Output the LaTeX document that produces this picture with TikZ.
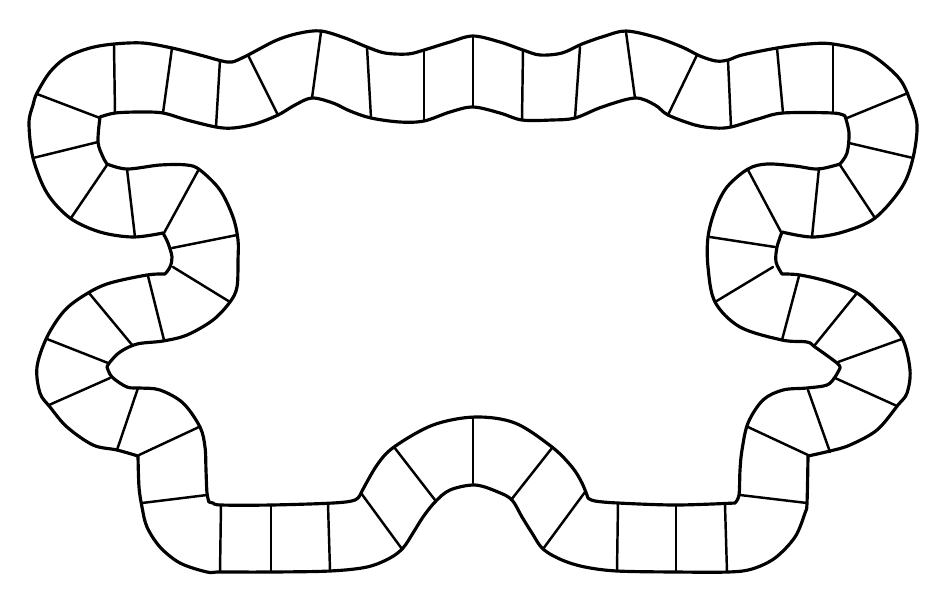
\documentclass[tikz,border=0pt]{standalone}
\usepackage{xcolor}
\definecolor{colTrack}{HTML}{000000}

\begin{document}
\begin{tikzpicture}[
    x=0.02cm, y=-0.02cm,
    trackline/.style={
        draw=colTrack, line width=1.8pt,
        line join=round, line cap=round
    },
    cellline/.style={
        draw=colTrack, line width=1.4pt,
        line cap=round
    },
    trackcurve/.style={smooth, tension=0.55}
]

    % --- FRAME ---
    \useasboundingbox (0,0) rectangle (950,600);

    % --- OUTER EDGE OF THE TRACK ---
    \draw[trackline]
        plot[trackcurve] coordinates {(163,233) (133,237) (100,232) (70,218) (47,193)
            (33,158) (29,123) (33,105) (37,93) (50,72) (67,57) (90,48) (114,44)
            (143,43) (172,48) (200,55) (222,61) (232,62) (242,58) (250,54)
            (277,40) (300,33) (321,31) (345,38) (367,47) (385,53) (408,54)
            (424,50) (450,42) (473,36) (500,42) (523,50) (540,55) (562,53)
            (582,44) (605,36) (626,31) (655,37) (682,47) (700,56) (716,61)
            (728,60) (742,55) (777,48) (808,44) (833,44) (868,53) (898,77)
            (910,100) (917,125) (913,158) (902,187) (875,218) (843,232)
            (812,237) (782,232)}
        -- plot[trackcurve] coordinates {(782,232) (777,247) (776,262) (782,274)}
        -- plot[trackcurve] coordinates {(782,274) (800,275) (830,282) (857,293)
            (880,313) (902,338) (910,370) (907,393) (898,405) (877,430)
            (850,445) (830,451) (808,456)}
        -- plot[trackcurve] coordinates {(808,456) (807,503) (805,513) (795,537)
            (775,558) (752,569) (728,572) (676,572) (617,571) (585,567)
            (562,560) (543,549) (532,533) (522,517) (512,500) (498,492)
            (475,485) (450,490) (435,502) (423,517) (413,533) (403,548)
            (390,558) (367,567) (330,571) (271,572) (220,572) (207,572)
            (180,563) (160,547) (147,527) (142,507) (139,487) (138,456)}
        -- plot[trackcurve] coordinates {(138,456) (117,450) (93,445) (67,427)
            (50,407) (40,393) (37,367) (47,337) (65,310) (88,293) (110,283)
            (147,275) (165,274)}
        -- plot[trackcurve] coordinates {(165,274) (170,267) (172,257) (168,243)
            (163,233)}
        -- cycle;

    % --- INNER EDGE OF THE TRACK ---
    \draw[trackline]
        plot[trackcurve] coordinates {(100,117) (115,113) (140,112) (163,113)
            (187,120) (216,127) (233,128) (255,124) (278,115) (295,105)
            (312,98) (333,103) (350,111) (371,118) (400,122) (424,121)
            (450,112) (473,107) (500,113) (522,120) (552,120) (575,118)
            (602,107) (635,98) (655,105) (668,115) (695,125) (715,128)
            (731,127) (758,119) (783,113) (833,113) (845,116)}
        -- plot[trackcurve] coordinates {(845,116) (849,133) (847,153) (840,164)}
        -- plot[trackcurve] coordinates {(840,164) (818,169) (795,166) (767,164)
            (748,169) (727,187) (715,210) (708,237) (708,267) (715,302)
            (740,327) (782,340) (807,342) (815,347) (837,363) (840,368)}
        -- plot[trackcurve] coordinates {(840,368) (835,377) (827,385) (807,388)
            (783,390) (763,400) (748,423) (742,450) (740,470) (739,495)
            (735,503)}
        -- plot[trackcurve] coordinates {(735,503) (676,505) (618,503) (595,501)
            (588,498)}
        -- plot[trackcurve] coordinates {(588,498) (582,483) (572,467) (552,447)
            (515,423) (475,417) (433,425) (394,447) (377,465) (361,493)}
        -- plot[trackcurve] coordinates {(361,493) (355,500) (333,503) (271,505)
            (221,505) (213,503) (209,502)}
        -- plot[trackcurve] coordinates {(209,502) (207,493) (206,470) (205,447)
            (200,427) (183,403) (160,390) (140,388) (127,387) (112,377)
            (107,367)}
        -- plot[trackcurve] coordinates {(107,367) (110,362) (120,352) (137,344)
            (163,341) (187,335) (213,320) (230,302) (237,287) (238,260)
            (238,240) (233,217) (220,190) (200,170) (187,165) (160,165)
            (127,169) (107,164)}
        -- plot[trackcurve] coordinates {(107,164) (103,157) (98,142) (100,117)}
        -- cycle;

    % --- CELL DIVIDERS (outer point / inner point) ---
    \foreach \ox/\oy/\ix/\iy in {
        114/45/115/113, 172/48/163/113, 220/60/216/127, 248/55/278/115,
        321/32/312/98, 367/47/371/118, 424/50/424/121, 473/36/473/107,
        523/50/522/120, 580/47/575/118, 626/32/635/98, 697/55/668/115,
        728/60/731/127, 777/48/783/113, 833/45/833/113,
        908/93/847/118, 913/158/849/143, 875/218/840/165,
        812/237/819/168, 781/232/748/170, 775/247/710/237, 773/267/715/302,
        799/276/782/340, 857/293/814/346, 902/339/838/362, 897/406/835/378,
        830/452/808/390, 808/455/748/427, 807/503/740/495,
        727/572/725/505, 676/572/676/505, 617/571/618/503,
        543/549/585/492, 511/500/552/448, 473/483/473/417,
        435/500/394/447, 402/549/361/493, 330/570/328/504,
        271/572/271/505, 220/572/221/505,
        142/503/207/495, 139/455/199/427, 117/450/138/388,
        49/405/110/378, 47/339/108/363, 89/293/133/346, 148/276/164/340,
        173/267/230/302, 172/248/237/235, 164/233/199/169,
        135/237/127/169, 71/218/107/165, 33/158/98/142, 37/94/100/118
    } {
        \draw[cellline] (\ox,\oy) -- (\ix,\iy);
    }

\end{tikzpicture}
\end{document}
